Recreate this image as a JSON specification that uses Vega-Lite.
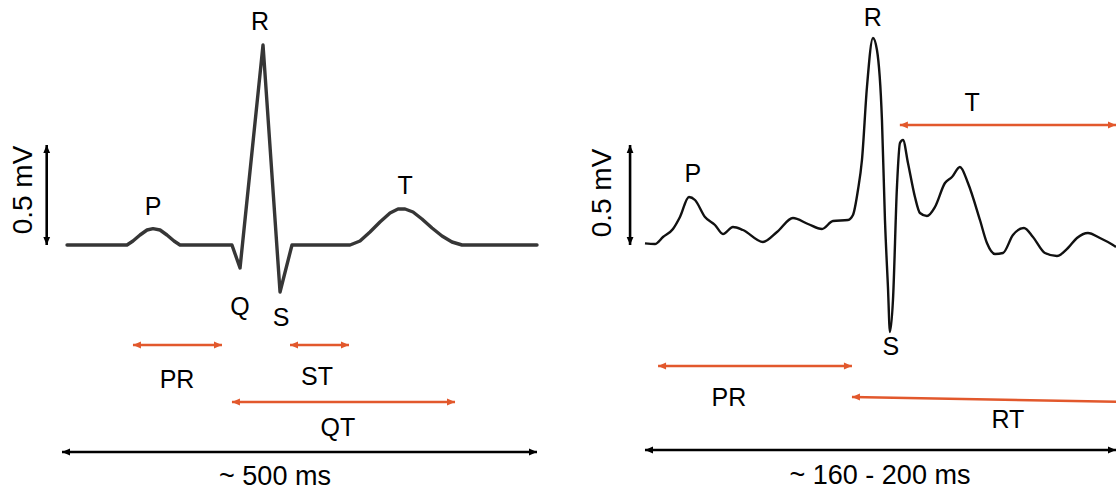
{
  "$schema": "https://vega.github.io/schema/vega-lite/v6.json",
  "background": "white",
  "padding": 0,
  "spacing": 0,
  "config": {
    "view": {"stroke": null},
    "font": "Liberation Sans",
    "text": {"font": "Liberation Sans", "color": "black"}
  },
  "datasets": {
    "humanTrace": [
      {"t": 5.3, "mv": 0}, {"t": 68.4, "mv": 0}, {"t": 74.7, "mv": 0.02}, {"t": 82.1, "mv": 0.05},
      {"t": 89.5, "mv": 0.075}, {"t": 95.8, "mv": 0.082}, {"t": 103.2, "mv": 0.075}, {"t": 110.5, "mv": 0.05},
      {"t": 117.9, "mv": 0.02}, {"t": 124.2, "mv": 0}, {"t": 178.9, "mv": 0}, {"t": 187.4, "mv": -0.115},
      {"t": 211.6, "mv": 1.0}, {"t": 229.5, "mv": -0.235}, {"t": 242.1, "mv": 0}, {"t": 303.2, "mv": 0},
      {"t": 313.7, "mv": 0.02}, {"t": 324.2, "mv": 0.065}, {"t": 334.7, "mv": 0.115}, {"t": 345.3, "mv": 0.16},
      {"t": 353.7, "mv": 0.18}, {"t": 361.1, "mv": 0.18}, {"t": 369.5, "mv": 0.165}, {"t": 378.9, "mv": 0.13},
      {"t": 389.5, "mv": 0.085}, {"t": 400, "mv": 0.045}, {"t": 410.5, "mv": 0.015}, {"t": 421.1, "mv": 0},
      {"t": 500, "mv": 0}
    ],
    "mouseTrace": [
      {"t": 0, "mv": 0.008}, {"t": 3.82, "mv": 0.005}, {"t": 6.88, "mv": 0.04}, {"t": 10.7, "mv": 0.08},
      {"t": 13.37, "mv": 0.14}, {"t": 16.81, "mv": 0.24}, {"t": 19.11, "mv": 0.225}, {"t": 22.93, "mv": 0.14},
      {"t": 26.75, "mv": 0.1}, {"t": 29.81, "mv": 0.055}, {"t": 33.63, "mv": 0.09}, {"t": 37.45, "mv": 0.075},
      {"t": 45.09, "mv": 0.015}, {"t": 50.44, "mv": 0.065}, {"t": 56.55, "mv": 0.135}, {"t": 62.29, "mv": 0.105},
      {"t": 67.64, "mv": 0.08}, {"t": 71.84, "mv": 0.12}, {"t": 77.57, "mv": 0.125}, {"t": 79.48, "mv": 0.15},
      {"t": 81.39, "mv": 0.275}, {"t": 82.92, "mv": 0.425}, {"t": 84.83, "mv": 0.79}, {"t": 87.12, "mv": 1.035},
      {"t": 88.65, "mv": 0.975}, {"t": 90.56, "mv": 0.625}, {"t": 91.71, "mv": 0.125}, {"t": 92.85, "mv": -0.21},
      {"t": 93.62, "mv": -0.435}, {"t": 94.77, "mv": -0.275}, {"t": 96.29, "mv": 0.29}, {"t": 97.44, "mv": 0.51},
      {"t": 98.59, "mv": 0.525}, {"t": 100.5, "mv": 0.41}, {"t": 103.17, "mv": 0.24}, {"t": 105.08, "mv": 0.16},
      {"t": 107.76, "mv": 0.145}, {"t": 110.81, "mv": 0.19}, {"t": 114.64, "mv": 0.31}, {"t": 117.31, "mv": 0.34},
      {"t": 120.37, "mv": 0.39}, {"t": 123.42, "mv": 0.31}, {"t": 128.01, "mv": 0.125}, {"t": 130.68, "mv": 0.01},
      {"t": 133.74, "mv": -0.045}, {"t": 136.8, "mv": -0.04}, {"t": 140.62, "mv": 0.05}, {"t": 144.82, "mv": 0.085},
      {"t": 148.26, "mv": 0.04}, {"t": 152.85, "mv": -0.04}, {"t": 157.43, "mv": -0.055}, {"t": 161.64, "mv": -0.015},
      {"t": 165.08, "mv": 0.035}, {"t": 169.28, "mv": 0.06}, {"t": 173.86, "mv": 0.035}, {"t": 178.85, "mv": 0},
      {"t": 180, "mv": -0.01}
    ],
    "humanArrows": [
      {"name": "PR", "t": 74.7, "t2": 168.4, "mv": -0.5, "mv2": -0.5, "kind": "interval"},
      {"name": "ST", "t": 240, "t2": 302.1, "mv": -0.5, "mv2": -0.5, "kind": "interval"},
      {"name": "QT", "t": 178.9, "t2": 413.7, "mv": -0.785, "mv2": -0.785, "kind": "interval"},
      {"name": "duration", "t": 0, "t2": 500, "mv": -1.035, "mv2": -1.035, "kind": "scale"},
      {"name": "amplitude", "t": -16.1, "t2": -16.1, "mv": 0, "mv2": 0.5, "kind": "scale"}
    ],
    "humanHeads": [
      {"t": 74.7, "mv": -0.5, "dir": "left", "kind": "interval"},
      {"t": 168.4, "mv": -0.5, "dir": "right", "kind": "interval"},
      {"t": 240, "mv": -0.5, "dir": "left", "kind": "interval"},
      {"t": 302.1, "mv": -0.5, "dir": "right", "kind": "interval"},
      {"t": 178.9, "mv": -0.785, "dir": "left", "kind": "interval"},
      {"t": 413.7, "mv": -0.785, "dir": "right", "kind": "interval"},
      {"t": 0, "mv": -1.035, "dir": "left", "kind": "scale"},
      {"t": 500, "mv": -1.035, "dir": "right", "kind": "scale"},
      {"t": -16.1, "mv": 0.5, "dir": "up", "kind": "scale"},
      {"t": -16.1, "mv": 0, "dir": "down", "kind": "scale"}
    ],
    "humanLabels": [
      {"label": "R", "t": 208.4, "mv": 1.115, "role": "wave"},
      {"label": "P", "t": 95.8, "mv": 0.19, "role": "wave"},
      {"label": "T", "t": 361.1, "mv": 0.295, "role": "wave"},
      {"label": "Q", "t": 187.4, "mv": -0.31, "role": "wave"},
      {"label": "S", "t": 230.5, "mv": -0.365, "role": "wave"},
      {"label": "PR", "t": 121.1, "mv": -0.675, "role": "wave"},
      {"label": "ST", "t": 268.4, "mv": -0.66, "role": "wave"},
      {"label": "QT", "t": 290.5, "mv": -0.915, "role": "wave"},
      {"label": "~ 500 ms", "t": 224.2, "mv": -1.16, "role": "duration"},
      {"label": "0.5 mV", "t": -40, "mv": 0.275, "role": "amplitude"}
    ],
    "mouseArrows": [
      {"name": "T", "t": 97.4, "t2": 185, "mv": 0.6, "mv2": 0.6, "kind": "interval"},
      {"name": "PR", "t": 5.0, "t2": 79.1, "mv": -0.605, "mv2": -0.605, "kind": "interval"},
      {"name": "RT", "t": 79.1, "t2": 185, "mv": -0.76, "mv2": -0.785, "kind": "interval"},
      {"name": "duration", "t": 0, "t2": 185, "mv": -1.025, "mv2": -1.025, "kind": "scale"},
      {"name": "amplitude", "t": -5.7, "t2": -5.7, "mv": 0, "mv2": 0.5, "kind": "scale"}
    ],
    "mouseHeads": [
      {"t": 97.4, "mv": 0.6, "dir": "left", "kind": "interval"},
      {"t": 180, "mv": 0.6, "dir": "right", "kind": "interval"},
      {"t": 5.0, "mv": -0.605, "dir": "left", "kind": "interval"},
      {"t": 79.1, "mv": -0.605, "dir": "right", "kind": "interval"},
      {"t": 79.1, "mv": -0.76, "dir": "left", "kind": "interval"},
      {"t": 0, "mv": -1.025, "dir": "left", "kind": "scale"},
      {"t": 180, "mv": -1.025, "dir": "right", "kind": "scale"},
      {"t": -5.7, "mv": 0.5, "dir": "up", "kind": "scale"},
      {"t": -5.7, "mv": 0, "dir": "down", "kind": "scale"}
    ],
    "mouseLabels": [
      {"label": "R", "t": 87.1, "mv": 1.135, "role": "wave"},
      {"label": "P", "t": 18.3, "mv": 0.355, "role": "wave"},
      {"label": "T", "t": 125, "mv": 0.71, "role": "wave"},
      {"label": "S", "t": 94, "mv": -0.51, "role": "wave"},
      {"label": "PR", "t": 32.1, "mv": -0.765, "role": "wave"},
      {"label": "RT", "t": 138.7, "mv": -0.875, "role": "wave"},
      {"label": "~ 160 - 200 ms", "t": 89.8, "mv": -1.155, "role": "duration"},
      {"label": "0.5 mV", "t": -16, "mv": 0.26, "role": "amplitude"}
    ]
  },
  "hconcat": [
    {
      "width": 558,
      "height": 490,
      "encoding": {
        "x": {"field": "t", "type": "quantitative", "axis": null, "scale": {"domain": [-65.26, 522.1], "nice": false, "zero": false}},
        "y": {"field": "mv", "type": "quantitative", "axis": null, "scale": {"domain": [-1.225, 1.225], "nice": false, "zero": false}}
      },
      "layer": [
        {
          "data": {"name": "humanTrace"},
          "mark": {"type": "line", "color": "#363636", "strokeWidth": 3.4, "strokeJoin": "round", "strokeCap": "round"}
        },
        {
          "data": {"name": "humanArrows"},
          "mark": {"type": "rule", "strokeWidth": 2.6},
          "encoding": {
            "x2": {"field": "t2"},
            "y2": {"field": "mv2"},
            "color": {"field": "kind", "type": "nominal", "legend": null, "scale": {"domain": ["interval", "scale"], "range": ["#e2582c", "#000000"]}}
          }
        },
        {
          "data": {"name": "humanHeads"},
          "mark": {"type": "point", "filled": true, "opacity": 1, "size": 64, "strokeWidth": 0},
          "encoding": {
            "shape": {"field": "dir", "type": "nominal", "legend": null, "scale": {"domain": ["left", "right", "up", "down"], "range": ["M0,0L2,-0.85L2,0.85Z", "M0,0L-2,-0.85L-2,0.85Z", "M0,0L-0.85,2L0.85,2Z", "M0,0L-0.85,-2L0.85,-2Z"]}},
            "color": {"field": "kind", "type": "nominal", "legend": null, "scale": {"domain": ["interval", "scale"], "range": ["#e2582c", "#000000"]}}
          }
        },
        {
          "data": {"name": "humanLabels"},
          "transform": [{"filter": "datum.role === 'wave'"}],
          "mark": {"type": "text", "fontSize": 25, "align": "center", "baseline": "middle"},
          "encoding": {"text": {"field": "label"}}
        },
        {
          "data": {"name": "humanLabels"},
          "transform": [{"filter": "datum.role === 'duration'"}],
          "mark": {"type": "text", "fontSize": 27, "align": "center", "baseline": "middle"},
          "encoding": {"text": {"field": "label"}}
        },
        {
          "data": {"name": "humanLabels"},
          "transform": [{"filter": "datum.role === 'amplitude'"}],
          "mark": {"type": "text", "fontSize": 28, "angle": 270, "align": "center", "baseline": "middle"},
          "encoding": {"text": {"field": "label"}}
        }
      ]
    },
    {
      "width": 558,
      "height": 490,
      "encoding": {
        "x": {"field": "t", "type": "quantitative", "axis": null, "scale": {"domain": [-33.24, 180], "nice": false, "zero": false}},
        "y": {"field": "mv", "type": "quantitative", "axis": null, "scale": {"domain": [-1.225, 1.225], "nice": false, "zero": false}}
      },
      "layer": [
        {
          "data": {"name": "mouseTrace"},
          "mark": {"type": "line", "color": "#111111", "strokeWidth": 2.4, "strokeJoin": "round", "interpolate": "monotone", "clip": true}
        },
        {
          "data": {"name": "mouseArrows"},
          "mark": {"type": "rule", "strokeWidth": 2.6, "clip": true},
          "encoding": {
            "x2": {"field": "t2"},
            "y2": {"field": "mv2"},
            "color": {"field": "kind", "type": "nominal", "legend": null, "scale": {"domain": ["interval", "scale"], "range": ["#e2582c", "#000000"]}}
          }
        },
        {
          "data": {"name": "mouseHeads"},
          "mark": {"type": "point", "filled": true, "opacity": 1, "size": 64, "strokeWidth": 0, "clip": true},
          "encoding": {
            "shape": {"field": "dir", "type": "nominal", "legend": null, "scale": {"domain": ["left", "right", "up", "down"], "range": ["M0,0L2,-0.85L2,0.85Z", "M0,0L-2,-0.85L-2,0.85Z", "M0,0L-0.85,2L0.85,2Z", "M0,0L-0.85,-2L0.85,-2Z"]}},
            "color": {"field": "kind", "type": "nominal", "legend": null, "scale": {"domain": ["interval", "scale"], "range": ["#e2582c", "#000000"]}}
          }
        },
        {
          "data": {"name": "mouseLabels"},
          "transform": [{"filter": "datum.role === 'wave'"}],
          "mark": {"type": "text", "fontSize": 25, "align": "center", "baseline": "middle"},
          "encoding": {"text": {"field": "label"}}
        },
        {
          "data": {"name": "mouseLabels"},
          "transform": [{"filter": "datum.role === 'duration'"}],
          "mark": {"type": "text", "fontSize": 27, "align": "center", "baseline": "middle"},
          "encoding": {"text": {"field": "label"}}
        },
        {
          "data": {"name": "mouseLabels"},
          "transform": [{"filter": "datum.role === 'amplitude'"}],
          "mark": {"type": "text", "fontSize": 28, "angle": 270, "align": "center", "baseline": "middle"},
          "encoding": {"text": {"field": "label"}}
        }
      ]
    }
  ]
}
